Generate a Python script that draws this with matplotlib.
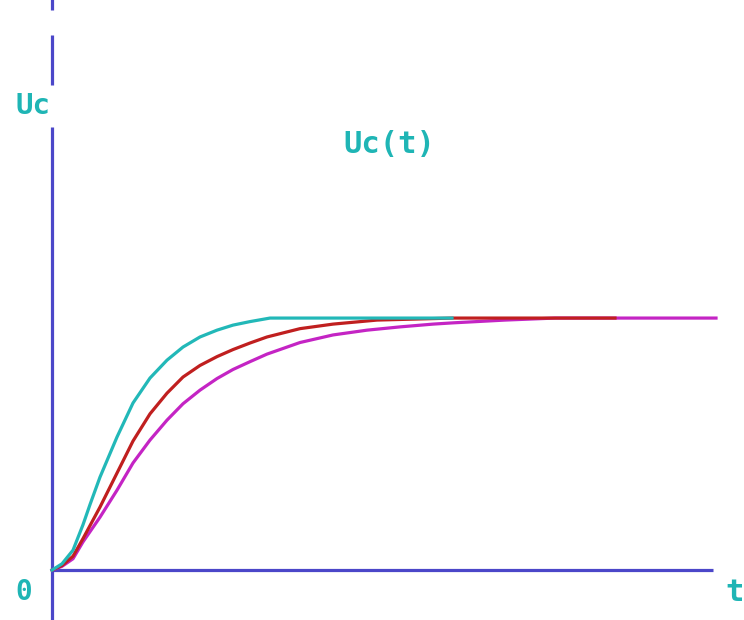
import matplotlib
matplotlib.use("Agg")
import matplotlib.pyplot as plt

# Capacitor voltage step responses, normalised to the final value 1
t_cyan = [0, 0.1, 0.21, 0.31, 0.38, 0.48, 0.65, 0.81, 0.98, 1.15, 1.31, 1.48, 1.65, 1.81,
          1.98, 2.18, 4.0]
u_cyan = [0, 0.025, 0.079, 0.180, 0.26, 0.369, 0.528, 0.663, 0.762, 0.833, 0.885, 0.925,
          0.952, 0.972, 0.986, 1.0, 1.0]

t_red = [0, 0.1, 0.21, 0.31, 0.48, 0.65, 0.81, 0.98, 1.15, 1.31, 1.48, 1.65, 1.81, 1.98,
         2.15, 2.48, 2.81, 3.25, 4.01, 5.63]
u_red = [0, 0.018, 0.055, 0.125, 0.25, 0.385, 0.512, 0.620, 0.702, 0.766, 0.812, 0.847,
         0.875, 0.901, 0.925, 0.958, 0.976, 0.992, 1.0, 1.0]

t_mag = [0, 0.1, 0.21, 0.31, 0.48, 0.65, 0.81, 0.98, 1.15, 1.31, 1.48, 1.65, 1.81, 1.98,
         2.15, 2.48, 2.81, 3.15, 3.48, 3.81, 4.01, 4.53, 5.03, 6.64]
u_mag = [0, 0.015, 0.045, 0.112, 0.210, 0.317, 0.425, 0.516, 0.595, 0.660, 0.714, 0.760,
         0.796, 0.827, 0.857, 0.903, 0.933, 0.952, 0.965, 0.976, 0.981, 0.992, 1.0, 1.0]

axis_color = "#4b47c9"
text_color = "#1fb5b5"

fig = plt.figure(figsize=(7.44, 6.2), dpi=100)
ax = fig.add_axes([0, 0, 1, 1])
ax.set_xlim(-0.52, 6.92)
ax.set_ylim(-0.198, 2.262)
ax.axis("off")

# axes: vertical axis broken at the top, horizontal axis ending before "t"
ax.plot([0, 0], [-0.198, 1.758], color=axis_color, lw=2.3, solid_capstyle="butt")
ax.plot([0, 0], [1.925, 2.123], color=axis_color, lw=2.3, solid_capstyle="butt")
ax.plot([0, 0], [2.222, 2.3], color=axis_color, lw=2.3, solid_capstyle="butt")
ax.plot([0, 6.61], [0, 0], color=axis_color, lw=2.3, solid_capstyle="butt")

ax.plot(t_mag, u_mag, color="#c424c4", lw=2.3, zorder=3)
ax.plot(t_red, u_red, color="#c01f1f", lw=2.3, zorder=4)
ax.plot(t_cyan, u_cyan, color="#22b8b8", lw=2.3, zorder=5)

font = dict(family="DejaVu Sans Mono", weight="bold", color=text_color)
ax.text(-0.19, 1.843, "Uc", fontsize=21, ha="center", va="center", **font)
ax.text(3.37, 1.69, "Uc(t)", fontsize=22, ha="center", va="center", **font)
ax.text(-0.28, -0.087, "0", fontsize=20, ha="center", va="center", **font)
ax.text(6.83, -0.087, "t", fontsize=22, ha="center", va="center", **font)

fig.savefig("out.png", dpi=100)
